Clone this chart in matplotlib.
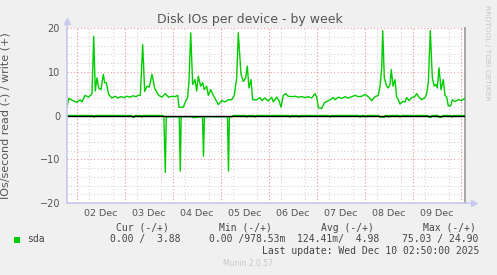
import matplotlib
matplotlib.use("Agg")
import matplotlib.pyplot as plt
from matplotlib.patches import Rectangle
from matplotlib.lines import Line2D

# time axis in days, 0 = 01 Dec 00:00
day_ticks = [1.5, 2.5, 3.5, 4.5, 5.5, 6.5, 7.5, 8.5]
day_labels = ["02 Dec", "03 Dec", "04 Dec", "05 Dec", "06 Dec", "07 Dec", "08 Dec", "09 Dec"]

write_t = [0.792, 0.827, 0.917, 1.000, 1.063, 1.104, 1.167, 1.244, 1.313, 1.348,
           1.381, 1.417, 1.452, 1.500, 1.548, 1.577, 1.610, 1.660, 1.729, 1.792,
           1.854, 1.917, 1.979, 2.042, 2.104, 2.167, 2.229, 2.271, 2.319, 2.369,
           2.410, 2.458, 2.506, 2.563, 2.619, 2.702, 2.771, 2.840, 2.906, 2.979,
           3.042, 3.098, 3.125, 3.215, 3.250, 3.306, 3.333, 3.369, 3.410, 3.458,
           3.494, 3.527, 3.577, 3.619, 3.652, 3.702, 3.735, 3.785, 3.840, 3.875,
           3.944, 4.015, 4.083, 4.152, 4.223, 4.277, 4.327, 4.360, 4.417, 4.465,
           4.515, 4.548, 4.583, 4.625, 4.660, 4.744, 4.813, 4.848, 4.917, 4.985,
           5.056, 5.090, 5.160, 5.208, 5.250, 5.298, 5.348, 5.402, 5.479, 5.542,
           5.604, 5.688, 5.750, 5.819, 5.890, 5.958, 5.994, 6.027, 6.098, 6.152,
           6.202, 6.271, 6.340, 6.375, 6.444, 6.515, 6.583, 6.652, 6.723, 6.792,
           6.860, 6.931, 7.000, 7.069, 7.140, 7.208, 7.277, 7.313, 7.348, 7.369,
           7.402, 7.452, 7.485, 7.521, 7.548, 7.583, 7.625, 7.660, 7.694, 7.729,
           7.777, 7.833, 7.869, 7.917, 7.973, 8.027, 8.077, 8.125, 8.181, 8.250,
           8.285, 8.319, 8.360, 8.402, 8.444, 8.479, 8.506, 8.542, 8.583, 8.631,
           8.667, 8.702, 8.735, 8.785, 8.819, 8.875, 8.944, 9.015, 9.069, 9.100]
write_v = [1.9, 3.9, 3.4, 3.0, 3.6, 3.1, 4.6, 4.2, 5.0, 18.1,
           5.6, 8.6, 6.3, 5.9, 9.4, 7.5, 7.5, 4.8, 4.0, 4.4,
           4.0, 4.3, 4.1, 4.4, 4.2, 4.5, 4.3, 4.6, 4.6, 16.2,
           5.5, 6.7, 6.5, 9.4, 6.2, 4.6, 4.2, 5.0, 4.2, 4.4,
           4.3, 4.6, 1.9, 1.9, 2.9, 4.2, 7.8, 18.9, 7.1, 8.2,
           5.6, 9.0, 6.7, 7.5, 5.9, 6.7, 4.6, 5.9, 4.6, 3.9,
           2.5, 3.4, 3.1, 3.6, 3.6, 4.6, 8.6, 18.9, 9.4, 7.8,
           8.6, 11.3, 6.3, 8.2, 3.6, 3.6, 4.1, 3.4, 4.0, 3.3,
           4.2, 3.1, 4.2, 3.4, 1.9, 4.6, 5.0, 4.4, 4.3, 4.4,
           4.2, 4.3, 4.1, 4.3, 4.0, 5.0, 4.2, 1.8, 1.6, 2.9,
           3.2, 3.6, 4.1, 3.6, 4.2, 3.9, 4.3, 4.0, 4.3, 4.6,
           4.3, 4.4, 4.8, 4.3, 3.4, 4.3, 4.6, 6.7, 10.9, 19.4,
           8.6, 6.7, 6.3, 7.1, 10.5, 6.7, 8.2, 4.2, 3.6, 2.6,
           3.2, 3.1, 4.1, 3.4, 4.1, 4.2, 5.0, 4.2, 3.6, 4.1,
           5.0, 7.5, 19.4, 8.6, 6.7, 7.1, 6.3, 10.9, 5.9, 8.2,
           4.6, 4.2, 2.2, 2.2, 3.6, 3.2, 3.6, 3.4, 3.9, 3.9]

# reads are drawn below zero
read_t = [0.792, 1.34, 1.36, 1.38, 2.14, 2.16, 2.19, 2.21, 2.33, 2.35,
          2.37, 2.79, 2.81, 2.84, 2.86, 3.13, 3.152, 3.17, 3.40, 3.42,
          3.615, 3.635, 3.655, 4.135, 4.156, 4.175, 4.23, 4.25, 4.52, 4.54,
          4.56, 4.69, 4.71, 4.73, 5.42, 5.44, 5.46, 5.605, 5.625, 5.645,
          6.25, 6.27, 6.29, 6.876, 6.896, 6.916, 7.00, 7.02, 7.04, 7.29,
          7.31, 7.40, 7.42, 7.47, 7.49, 7.51, 7.71, 7.73, 7.75, 8.31,
          8.33, 8.375, 8.395, 8.52, 8.54, 8.60, 8.62, 8.79, 8.81, 8.83,
          9.100]
read_v = [0.0, 0.0, -0.4, 0.0, 0.0, -0.4, -0.4, 0.0, 0.0, -0.4,
          0.0, 0.0, -0.3, -13.0, -0.3, -0.3, -12.7, -0.3, -0.3, -0.5,
          -0.3, -9.3, -0.3, -0.3, -12.7, -0.3, -0.3, 0.0, 0.0, -0.4,
          0.0, 0.0, -0.4, 0.0, 0.0, -0.4, 0.0, 0.0, -0.4, 0.0,
          0.0, -0.4, 0.0, 0.0, -0.4, 0.0, 0.0, -0.4, 0.0, 0.0,
          -0.4, -0.4, 0.0, 0.0, -0.4, 0.0, 0.0, -0.4, 0.0, 0.0,
          -0.4, -0.4, 0.0, 0.0, -0.4, -0.4, 0.0, 0.0, -0.4, 0.0,
          0.0]

W, H = 497, 275
BG = "#f0f0f0"
GREEN = "#00cc00"
AXIS = "#c8c8f0"
MONO = "DejaVu Sans Mono"

fig = plt.figure(figsize=(W / 100, H / 100), dpi=100, facecolor=BG)
ax = fig.add_axes([67 / W, 72 / H, 398 / W, 175 / H])
ax.set_facecolor("white")

# grid: minor every 6h / 2 units, major (red) every day / 10 units
ax.set_xticks([d + q * 0.25 for d in range(0, 10) for q in range(4)], minor=True)
ax.set_xticks(day_ticks)
ax.set_xticklabels(day_labels)
ax.set_yticks(range(-20, 21, 2), minor=True)
ax.set_yticks([-20, -10, 0, 10, 20])
ax.grid(which="minor", color="#d4d4d4", linestyle=(0, (1, 2)), linewidth=0.8)
ax.grid(which="major", axis="y", color="#f0a0a0", linestyle=(0, (1, 2)), linewidth=0.8)
for d in range(1, 10):
    ax.axvline(d, color="#f0a0a0", linestyle=(0, (1, 2)), linewidth=0.8, zorder=0.6)
ax.grid(which="major", axis="x", visible=False)
ax.set_axisbelow(True)

ax.tick_params(which="both", length=0)
ax.tick_params(axis="y", pad=5, labelsize=7, labelcolor="#555555")
ax.tick_params(axis="x", pad=4, labelsize=6.8, labelcolor="#555555")

for s in ("top", "left", "bottom"):
    ax.spines[s].set_visible(False)
ax.spines["right"].set_color("#999999")
ax.spines["right"].set_linewidth(1.2)

ax.plot(read_t, read_v, color=GREEN, lw=1.0, zorder=3)
ax.plot(write_t, write_v, color=GREEN, lw=1.0, zorder=3)
ax.axhline(0, color="black", lw=1.0, zorder=4)

ax.set_xlim(0.792, 9.083)
ax.set_ylim(-20, 20)

# axes with arrows, munin style
tr = ax.transAxes
ax.add_line(Line2D([0, 0], [0, 1.035], transform=tr, color=AXIS, lw=1.2, clip_on=False, zorder=5))
ax.add_line(Line2D([0, 1.02], [0, 0], transform=tr, color=AXIS, lw=1.2, clip_on=False, zorder=5))
ax.plot([0], [1.04], marker="^", ms=5, color=AXIS, transform=tr, clip_on=False, zorder=5)
ax.plot([1.022], [0], marker=">", ms=5, color=AXIS, transform=tr, clip_on=False, zorder=5)

ax.set_ylabel("IOs/second read (-) / write (+)", fontsize=8, color="#555555")
ax.yaxis.set_label_coords(-0.143, 0.5)

fig.text(250 / W, 1 - 19 / H, "Disk IOs per device - by week", ha="center", va="center",
         fontsize=9, color="#555555")
fig.text(487 / W, 1 - 53 / H, "RRDTOOL / TOBI OETIKER", rotation=270, ha="center", va="center",
         fontsize=5.4, color="#c8c8c8")


def put(x, y, s, **kw):
    fig.text(x / W, 1 - y / H, s, va="center", ha="left", fontsize=7, family=MONO,
             color="#444444", **kw)


fig.patches.append(Rectangle((14 / W, 1 - 242.5 / H), 5.5 / W, 5.5 / H,
                             transform=fig.transFigure, facecolor=GREEN, edgecolor="none"))
put(26.7, 239.3, "sda")
put(116, 227.7, "Cur (-/+)")
put(219, 227.7, "Min (-/+)")
put(321, 227.7, "Avg (-/+)")
put(423, 227.7, "Max (-/+)")
put(110, 239.3, "0.00 /  3.88")
put(209, 239.3, "0.00 /978.53m")
put(297, 239.3, "124.41m/  4.98")
put(402, 239.3, "75.03 / 24.90")
put(262, 251, "Last update: Wed Dec 10 02:50:00 2025")
fig.text(248 / W, 1 - 264 / H, "Munin 2.0.57", ha="center", va="center", fontsize=5.5,
         color="#c8c8c8")

fig.savefig("out.png", dpi=100, facecolor=BG)
